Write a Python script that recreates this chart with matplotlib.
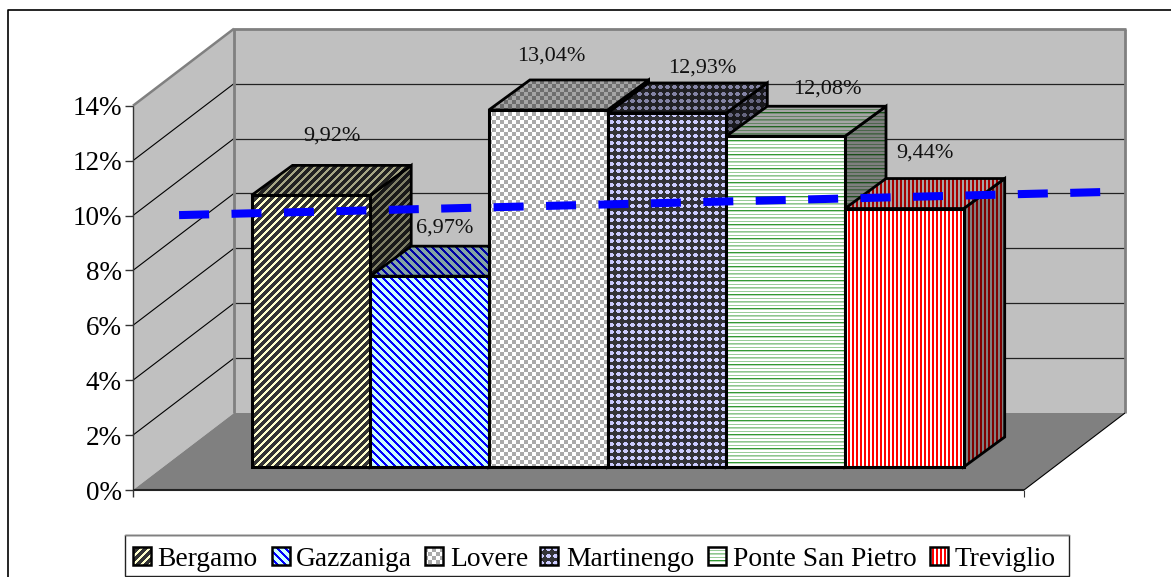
import numpy as np
import matplotlib
matplotlib.use("Agg")
import matplotlib.pyplot as plt
from matplotlib.patches import Polygon, Rectangle

plt.rcParams['font.family'] = ['Liberation Serif', 'DejaVu Serif']

### Data
sedi = ["Bergamo", "Gazzaniga", "Lovere", "Martinengo", "Ponte San Pietro", "Treviglio"]
valori = [9.92, 6.97, 13.04, 12.93, 12.08, 9.44]
tick_values = [0, 2, 4, 6, 8, 10, 12, 14]
trend_x = [-0.61, 7.15]  # in category units
trend_y = [9.2, 10.04]  # %

### Layout (pixels)
W, H = 1171, 577
left_x, right_x = 133, 1024
front_y, back_y = 490, 413
depth_x, depth_y = 101, -77
wall_h = 54.9  # px per 2%
bar_x0 = 251.5
bar_w = 118.7
bar_base = 467
bar_scale = 27.38  # px per 1%
bar_dx, bar_dy = 41, -30
label_off = [(21, -59), (15, -48), (3, -54), (35, -45), (42, -47), (21, -55)]
legend_swatch = [133, 272, 425, 540, 708, 930]
legend_text = [157, 296, 450, 566, 733, 955]

fig = plt.figure(figsize=(W / 100, H / 100), dpi=100)
ax = fig.add_axes([0, 0, 1, 1])
ax.axis("off")

yy, xx = np.mgrid[0:H, 0:W]


## pattern masks, each returns 0 (base colour) up to 1 (pattern colour)
def diag_up():
    return ((xx + yy) % 8 >= 3).astype(float)


def diag_down():
    return ((xx - yy) % 8 < 3).astype(float)


def checker():
    return (((xx // 4) + (yy // 4)) % 2).astype(float)


def dots():
    px = xx % 7
    py = yy % 7
    a = ((py == 2) | (py == 3)) & (px <= 4)
    b = ((py == 1) | (py == 4)) & (px >= 1) & (px <= 3)
    return (a | b).astype(float)


def hlines():
    out = np.zeros((H, W))
    out[yy % 7 == 0] = 0.55
    out[yy % 7 == 1] = 0.35
    out[yy % 7 == 4] = 0.5
    out[yy % 14 == 0] = 1.0
    return out


def vlines():
    return (xx % 4 < 2).astype(float)


stili = [
    (diag_up, (255, 255, 204), (51, 51, 51)),
    (diag_down, (204, 255, 255), (0, 0, 255)),
    (checker, (255, 255, 255), (170, 170, 170)),
    (dots, (51, 51, 56), (204, 204, 255)),
    (hlines, (255, 255, 255), (51, 153, 51)),
    (vlines, (255, 255, 255), (255, 0, 0)),
]
top_shade = 0.65
side_shade = 0.5

z = [1]


def next_z():
    z[0] += 1
    return z[0]


def pattern_face(pts, stile, shade=1.0, lw=2.0):
    func, c0, c1 = stile
    mask = func()[..., None]
    rgb = (np.array(c0) * (1 - mask) + np.array(c1) * mask) * shade / 255.0
    im = ax.imshow(rgb, extent=(0, W, H, 0), interpolation="nearest", zorder=next_z())
    clip = Polygon(pts, closed=True, transform=ax.transData)
    im.set_clip_path(clip)
    ax.add_patch(Polygon(pts, closed=True, fill=False, edgecolor="black", linewidth=lw,
                         joinstyle="miter", zorder=next_z()))


def poly(pts, fc, ec="none", lw=0):
    ax.add_patch(Polygon(pts, closed=True, facecolor=fc, edgecolor=ec, linewidth=lw, zorder=next_z()))


def line(x, y, color="black", lw=0.8):
    ax.plot(x, y, color=color, linewidth=lw, solid_capstyle="butt", zorder=next_z())


### Walls and floor
wall_top = front_y - 7 * wall_h
back_top = wall_top + depth_y
poly([(left_x + depth_x, back_top), (right_x + depth_x, back_top), (right_x + depth_x, back_y),
      (left_x + depth_x, back_y)], "#c0c0c0")
poly([(left_x, wall_top), (left_x + depth_x, back_top), (left_x + depth_x, back_y), (left_x, front_y)], "#c0c0c0")

for v in tick_values[1:-1]:
    k = v / 2
    y_front = front_y - k * wall_h
    y_back = y_front + depth_y
    line([left_x, left_x + depth_x], [y_front, y_back], "black", 0.8)
    line([left_x + depth_x, right_x + depth_x], [y_back, y_back], "#222222", 0.9)

poly([(left_x, front_y), (left_x + depth_x, back_y), (right_x + depth_x, back_y), (right_x, front_y)], "#808080")

line([left_x, left_x + depth_x], [wall_top, back_top], "#808080", 1.8)
line([left_x + depth_x - 1, right_x + depth_x + 1], [back_top, back_top], "#808080", 2.0)
line([left_x + depth_x, left_x + depth_x], [back_top, back_y], "#808080", 2.0)
line([right_x + depth_x, right_x + depth_x], [back_top, back_y], "#808080", 2.0)
line([right_x, right_x + depth_x], [front_y, back_y], "black", 0.8)

## axes
line([left_x, left_x], [wall_top, front_y + 7], "#333333", 1.0)
line([left_x, right_x], [front_y, front_y], "#222222", 1.5)
line([right_x, right_x], [front_y, front_y + 7], "#333333", 0.8)
for v in tick_values:
    y_t = front_y - v / 2 * wall_h
    line([left_x - 8, left_x], [y_t, y_t], "#333333", 1.0)
    ax.text(left_x - 11, y_t + 3, "%d%%" % v, ha="right", va="center", fontsize=19.5, zorder=50)

### Bars
for i, v in enumerate(valori):
    x0 = bar_x0 + i * bar_w
    x1 = x0 + bar_w
    y_top = bar_base - v * bar_scale
    pattern_face([(x1, y_top), (x1 + bar_dx, y_top + bar_dy), (x1 + bar_dx, bar_base + bar_dy), (x1, bar_base)],
                 stili[i], side_shade)
    pattern_face([(x0, y_top), (x0 + bar_dx, y_top + bar_dy), (x1 + bar_dx, y_top + bar_dy), (x1, y_top)],
                 stili[i], top_shade)
    pattern_face([(x0, y_top), (x1, y_top), (x1, bar_base), (x0, bar_base)], stili[i], 1.0, 2.2)

### Trend line
tx = [bar_x0 + t * bar_w for t in trend_x]
ty = [bar_base - t * bar_scale for t in trend_y]
ax.plot(tx, ty, color="#0000ff", linewidth=5.8, linestyle=(0, (30 / 8.05, 22.4 / 8.05)),
        dash_capstyle="butt", zorder=next_z())

### Data labels
for i, v in enumerate(valori):
    cx = bar_x0 + (i + 0.5) * bar_w + label_off[i][0]
    cy = bar_base - v * bar_scale + label_off[i][1]
    ax.text(cx, cy, ("%.2f%%" % v).replace(".", ","), ha="center", va="center", fontsize=16,
            color="#111111", zorder=60)

### Outer frame (open on the right, cut at the bottom)
ax.plot([8, 8, W], [H, 9.5, 9.5], color="black", linewidth=1.2, zorder=70)

### Legend
ax.add_patch(Rectangle((124.5, 535), 944, 41, facecolor="white", edgecolor="#222222", linewidth=1.0, zorder=next_z()))
ax.plot([124.5, 1068.5], [535, 535], color="#808080", linewidth=1.0, zorder=next_z())
for i, nome in enumerate(sedi):
    sx = legend_swatch[i]
    pts = [(sx, 547), (sx + 18, 547), (sx + 18, 565), (sx, 565)]
    pattern_face(pts, stili[i], 1.0, 1.8)
    ax.text(legend_text[i], 560, nome, ha="left", va="center", fontsize=19.8, zorder=80)

ax.set_xlim(0, W)
ax.set_ylim(H, 0)
ax.set_aspect("auto")
fig.savefig("out.png", dpi=100)
